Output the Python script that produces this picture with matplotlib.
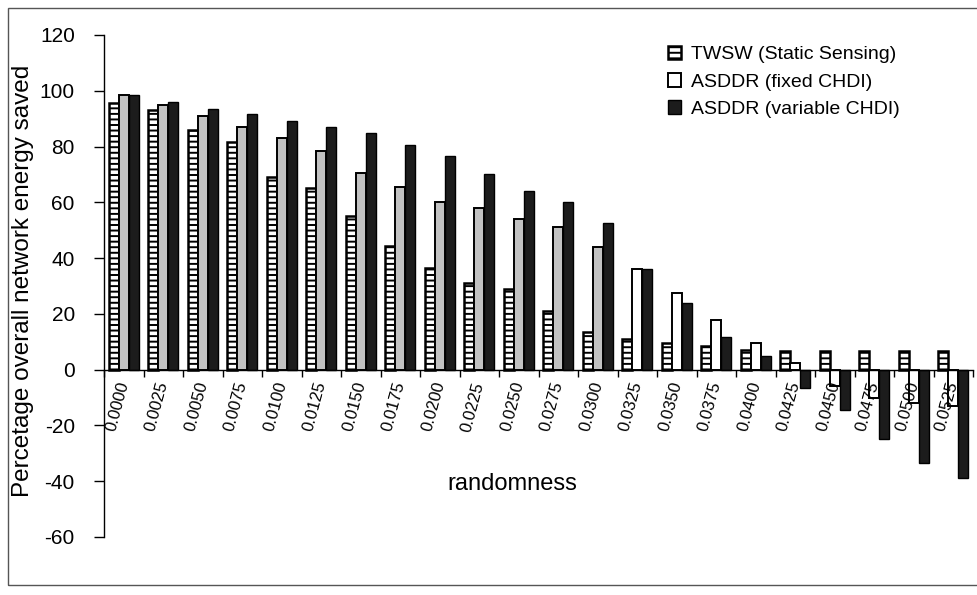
import numpy as np
import matplotlib
matplotlib.use("Agg")
import matplotlib.pyplot as plt
from matplotlib.patches import Rectangle

plt.rcParams["font.family"] = ["Liberation Sans", "DejaVu Sans"]
plt.rcParams["hatch.linewidth"] = 1.4
plt.rcParams["axes.unicode_minus"] = False

# randomness levels and energy saved (%) per scheme
randomness = ["0.0000", "0.0025", "0.0050", "0.0075", "0.0100", "0.0125",
              "0.0150", "0.0175", "0.0200", "0.0225", "0.0250", "0.0275",
              "0.0300", "0.0325", "0.0350", "0.0375", "0.0400", "0.0425",
              "0.0450", "0.0475", "0.0500", "0.0525"]
twsw = [95.5, 93, 86, 81.5, 69, 65, 55, 44.5, 36.5, 31, 29, 21,
        13.5, 11, 9.7, 8.4, 6.9, 6.7, 6.7, 6.7, 6.7, 6.7]
asddr_fixed = [98.5, 95, 91, 87, 83, 78.5, 70.5, 65.5, 60, 58, 54, 51,
               44, 36, 27.4, 17.7, 9.4, 2.5, -6, -10, -12, -13]
asddr_var = [98.5, 96, 93.5, 91.5, 89, 87, 85, 80.5, 76.5, 70, 64, 60,
             52.5, 36, 23.8, 11.7, 4.9, -6.5, -14.5, -25, -33.5, -39]

x = np.arange(len(randomness))
w = 0.25

fig = plt.figure(figsize=(9.78, 5.95), dpi=100)
ax = fig.add_axes([104 / 978, 1 - 537 / 595, 869 / 978, (537 - 35) / 595])

fixed_colors = ["#c2c2c2"] * 13 + ["white"] * 9

ax.bar(x - w, twsw, w, color="white", edgecolor="black", linewidth=1.8,
       hatch="---", label="TWSW (Static Sensing)")
ax.bar(x, asddr_fixed, w, color=fixed_colors, edgecolor="black", linewidth=1.4,
       label="ASDDR (fixed CHDI)")
ax.bar(x + w, asddr_var, w, color="#1c1c1c", edgecolor="black", linewidth=1.0,
       label="ASDDR (variable CHDI)")

ax.set_xlim(-0.5, len(x) - 0.5)
ax.set_ylim(-60, 120)
ax.set_yticks(np.arange(-60, 121, 20))
ax.tick_params(axis="y", direction="out", length=7, width=1, pad=14,
               labelsize=15)

for s in ["top", "right"]:
    ax.spines[s].set_visible(False)
ax.spines["bottom"].set_position(("data", 0))
ax.spines["left"].set_linewidth(1.0)
ax.spines["bottom"].set_linewidth(1.0)

# ticks between groups, labels under group centres
ax.set_xticks(np.arange(len(x) + 1) - 0.5)
ax.set_xticklabels([])
ax.tick_params(axis="x", which="major", direction="out", length=5, width=1)
ax.set_xticks(x, randomness, minor=True)
ax.tick_params(axis="x", which="minor", length=0, pad=9, labelsize=12)
for lbl in ax.get_xticklabels(minor=True):
    lbl.set_rotation(75)
    lbl.set_ha("right")
    lbl.set_va("center")
    lbl.set_rotation_mode("anchor")

ax.text(0.47, 0.105, "randomness", transform=ax.transAxes, ha="center",
        va="center", fontsize=17)
fig.text(23 / 978, 1 - 281 / 595, "Percetage overall network energy saved",
         rotation=90, ha="center", va="center", fontsize=17.5)

leg = ax.legend(loc="upper left", bbox_to_anchor=(660 / 978, 1 - 38 / 595),
                bbox_transform=fig.transFigure, frameon=False, fontsize=14,
                handlelength=0.7, handleheight=0.7, handletextpad=0.5,
                labelspacing=0.5, borderaxespad=0)
leg.legend_handles[1].set_facecolor("white")

# chart area border
fig.patches.append(Rectangle((8 / 978, 1 - 585 / 595), 1.0, (585 - 8) / 595,
                             transform=fig.transFigure, fill=False,
                             edgecolor="#555555", linewidth=1.0))

fig.savefig("out.png", dpi=100)
